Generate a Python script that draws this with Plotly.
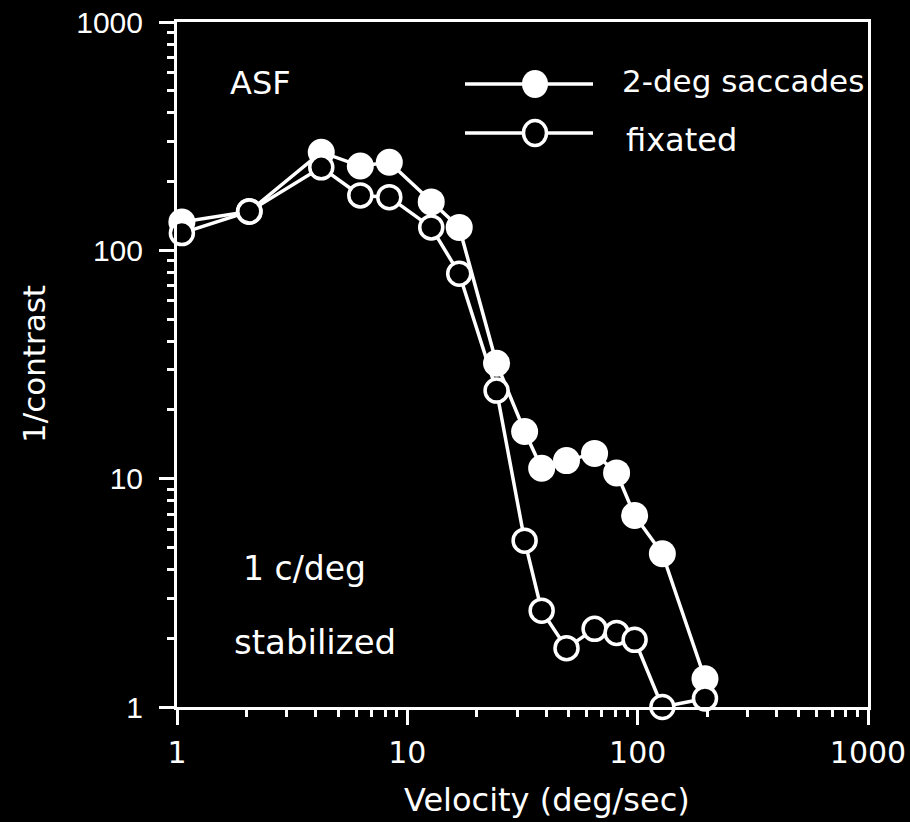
import plotly.graph_objects as go

# ---------------- data ----------------
velocity = [1.05, 2.06, 4.23, 6.25, 8.35, 12.7, 16.8, 24.4, 32.3, 38.3, 49.1, 65, 81, 97, 128, 196]
saccades = [133, 148, 269, 234, 243, 163, 126, 32, 16.1, 11.1, 12.0, 12.9, 10.6, 6.9, 4.69, 1.33]
fixated = [119, 148, 231, 174, 171, 126, 79, 24.3, 5.35, 2.64, 1.81, 2.2, 2.11, 1.97, 1.0, 1.09]

major_ticks = [1, 10, 100, 1000]
major_labels = ["1", "10", "100", "1000"]
minor_ticks = [m * d for d in (1, 10, 100) for m in range(2, 10)]

series_names = ["2-deg saccades", "fixated"]

# ---------------- layout constants (pixels) ----------------
W, H = 910, 822
L, R, T, B = 177, 868, 22, 707  # plot area edges in px
FONT = "DejaVu Sans"
TICKFONT_Y = "Liberation Sans"


def px(xp):
    return (xp - L) / (R - L)


def py(yp):
    return (B - yp) / (B - T)


fig = go.Figure()

fig.add_trace(go.Scatter(
    x=velocity, y=saccades, mode="lines+markers", name=series_names[0],
    line=dict(color="white", width=3.5),
    marker=dict(symbol="circle", size=27, color="white", line=dict(color="white", width=0)),
    cliponaxis=False, showlegend=False,
))
fig.add_trace(go.Scatter(
    x=velocity, y=fixated, mode="lines+markers", name=series_names[1],
    line=dict(color="white", width=3.5),
    marker=dict(symbol="circle", size=23, color="black", line=dict(color="white", width=3.5)),
    cliponaxis=False, showlegend=False,
))

axis_common = dict(
    type="log", range=[0, 3], showgrid=False, zeroline=False, automargin=False,
    showline=True, linecolor="white", linewidth=3, mirror=True,
    ticks="outside", ticklen=15, tickwidth=3, tickcolor="white",
    tickmode="array", tickvals=major_ticks, ticktext=major_labels,
    minor=dict(tickmode="array", tickvals=minor_ticks, ticks="outside",
               ticklen=7, tickwidth=2.5, tickcolor="white", showgrid=False),
)

fig.update_xaxes(**axis_common, tickfont=dict(family=FONT, size=30, color="white"),
                 ticklabelstandoff=2)
fig.update_yaxes(**axis_common, tickfont=dict(family=TICKFONT_Y, size=30, color="white"),
                 ticklabelstandoff=10)

annotations = [
    dict(text="ASF", x=px(228), y=py(83), size=32),
    dict(text="1 c/deg", x=px(241), y=py(568), size=33),
    dict(text="stabilized", x=px(232), y=py(642), size=34),
    dict(text=series_names[0], x=px(620), y=py(81), size=31),
    dict(text=series_names[1], x=px(624), y=py(140), size=32),
]
ann_list = []
for a in annotations:
    ann_list.append(dict(
        text=a["text"], x=a["x"], y=a["y"], xref="paper", yref="paper",
        xanchor="left", yanchor="middle", showarrow=False,
        font=dict(family=FONT, size=a["size"], color="white"),
    ))
# axis titles
ann_list.append(dict(text="Velocity (deg/sec)", x=px(547), y=py(800), xref="paper", yref="paper",
                     xanchor="center", yanchor="middle", showarrow=False,
                     font=dict(family=FONT, size=32, color="white")))
ann_list.append(dict(text="1/contrast", x=px(34), y=py(364), xref="paper", yref="paper",
                     xanchor="center", yanchor="middle", showarrow=False, textangle=-90,
                     font=dict(family=FONT, size=31, color="white")))

# legend samples (decoration)
shapes = []
for yc, filled in ((84, True), (133, False)):
    shapes.append(dict(type="line", xref="paper", yref="paper",
                       x0=px(465), x1=px(593), y0=py(yc), y1=py(yc),
                       line=dict(color="white", width=3.5), layer="above"))
    r = 13 if filled else 11.5
    shapes.append(dict(type="circle", xref="paper", yref="paper",
                       x0=px(535 - r), x1=px(535 + r), y0=py(yc + r + 1), y1=py(yc - r - 1),
                       fillcolor="white" if filled else "black",
                       line=dict(color="white", width=0 if filled else 3.5), layer="above"))

fig.update_layout(
    width=W, height=H,
    margin=dict(l=L, r=W - R, t=T, b=H - B, autoexpand=False),
    paper_bgcolor="black", plot_bgcolor="black",
    font=dict(family=FONT, color="white"),
    annotations=ann_list, shapes=shapes, showlegend=False,
)

fig.write_html(
    "out.html",
    config={"displayModeBar": False},
    post_script="document.body.style.margin='0';document.body.style.overflow='hidden';"
                "document.body.style.background='black';",
)
